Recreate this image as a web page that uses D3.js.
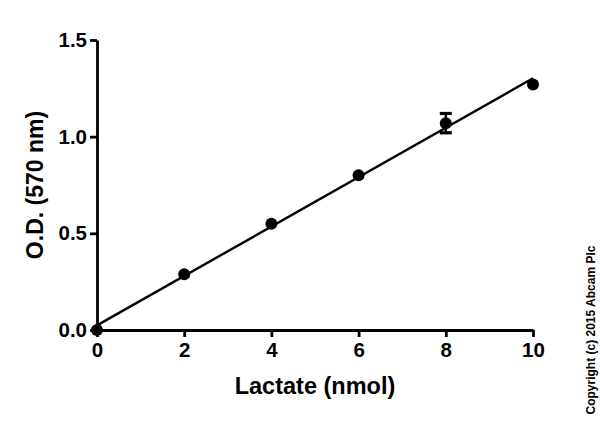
<!DOCTYPE html>
<html>
<head>
<meta charset="utf-8">
<script src="https://cdn.jsdelivr.net/npm/d3@7"></script>
<style>
  body { margin: 0; background: #fff; }
  svg text { font-family: "Liberation Sans", Arial, sans-serif; fill: #000; }
</style>
</head>
<body>
<div id="chart"></div>
<script>
// standard curve data
var lactate = [0, 2, 4, 6, 8, 10];
var od = [0.0, 0.288, 0.55, 0.80, 1.07, 1.27];
var odErr = [0, 0, 0, 0, 0.05, 0];
var xTicks = [0, 2, 4, 6, 8, 10];
var yTicks = [0.0, 0.5, 1.0, 1.5];

var width = 600, height = 421;
var margin = { left: 97, right: 67, top: 40, bottom: 91 };

var svg = d3.select("#chart").append("svg")
  .attr("width", width)
  .attr("height", height);

var x = d3.scaleLinear().domain([0, 10]).range([margin.left, width - margin.right]);
var y = d3.scaleLinear().domain([0, 1.5]).range([height - margin.bottom, margin.top]);

// least squares fit
var mx = d3.mean(lactate), my = d3.mean(od);
var sxy = d3.sum(lactate, function (d, i) { return (d - mx) * (od[i] - my); });
var sxx = d3.sum(lactate, function (d) { return (d - mx) * (d - mx); });
var slope = sxy / sxx, icpt = my - slope * mx;

var xAxis = d3.axisBottom(x).tickValues(xTicks).tickSize(7).tickPadding(5)
  .tickFormat(d3.format("d"));
var yAxis = d3.axisLeft(y).tickValues(yTicks).tickSize(7).tickPadding(3)
  .tickFormat(d3.format(".1f"));

function styleAxis(g) {
  g.select(".domain").attr("stroke", "#000").attr("stroke-width", 2.8);
  g.selectAll(".tick line").attr("stroke", "#000").attr("stroke-width", 2.8);
  g.selectAll(".tick text").style("font-size", "20.5px").style("font-weight", "bold");
}

svg.append("g")
  .attr("transform", "translate(0," + y(0) + ")")
  .call(xAxis.tickSizeOuter(0))
  .call(styleAxis);

svg.append("g")
  .attr("transform", "translate(" + x(0) + ",0)")
  .call(yAxis.tickSizeOuter(0))
  .call(styleAxis);

// fit line
svg.append("line")
  .attr("x1", x(0)).attr("y1", y(icpt))
  .attr("x2", x(10)).attr("y2", y(icpt + slope * 10))
  .attr("stroke", "#000").attr("stroke-width", 2.4);

// error bars
var pts = lactate.map(function (d, i) { return { x: d, y: od[i], e: odErr[i] }; });
var eb = svg.append("g").selectAll("g").data(pts.filter(function (d) { return d.e > 0; }))
  .enter().append("g");
eb.append("line")
  .attr("x1", function (d) { return x(d.x); }).attr("x2", function (d) { return x(d.x); })
  .attr("y1", function (d) { return y(d.y - d.e); }).attr("y2", function (d) { return y(d.y + d.e); })
  .attr("stroke", "#000").attr("stroke-width", 2.5);
[-1, 1].forEach(function (s) {
  eb.append("line")
    .attr("x1", function (d) { return x(d.x) - 6; }).attr("x2", function (d) { return x(d.x) + 6; })
    .attr("y1", function (d) { return y(d.y + s * d.e); }).attr("y2", function (d) { return y(d.y + s * d.e); })
    .attr("stroke", "#000").attr("stroke-width", 3.2);
});

// points
svg.append("g").selectAll("circle").data(pts).enter().append("circle")
  .attr("cx", function (d) { return x(d.x); })
  .attr("cy", function (d) { return y(d.y); })
  .attr("r", 6)
  .attr("fill", "#000");

// axis titles
svg.append("text")
  .attr("x", (x(0) + x(10)) / 2).attr("y", 394)
  .attr("text-anchor", "middle")
  .style("font-size", "23.5px").style("font-weight", "bold")
  .text("Lactate (nmol)");

svg.append("text")
  .attr("transform", "translate(43," + (y(0) + y(1.5)) / 2 + ") rotate(-90)")
  .attr("text-anchor", "middle")
  .style("font-size", "23px").style("font-weight", "bold")
  .text("O.D. (570 nm)");

svg.append("text")
  .attr("transform", "translate(595,330) rotate(-90)")
  .attr("text-anchor", "middle")
  .style("font-size", "12px").style("font-weight", "bold")
  .text("Copyright (c) 2015 Abcam Plc");
</script>
</body>
</html>
